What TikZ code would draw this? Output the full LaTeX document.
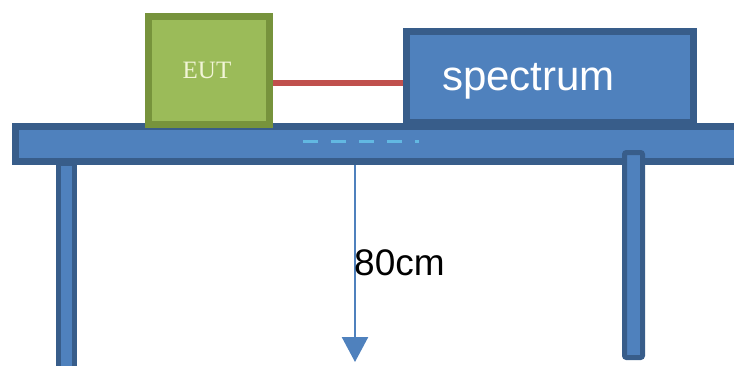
\documentclass[tikz,border=0pt]{standalone}
\usepackage{fontspec}
\setmainfont{Liberation Serif}
\newfontfamily\arialf{Liberation Sans}
\usetikzlibrary{arrows.meta,calc}
\definecolor{tblue}{HTML}{4F81BD}
\definecolor{tbluedk}{HTML}{385D8A}
\definecolor{egreen}{HTML}{9BBB59}
\definecolor{egreendk}{HTML}{77933C}
\definecolor{cred}{HTML}{C0504D}
\definecolor{dashblue}{HTML}{62B8E2}
\definecolor{eutText}{RGB}{242,245,215}
\tikzset{
  bluebox/.style={draw=tbluedk, fill=tblue, line width=7pt, rectangle, inner sep=0pt},
  legbox/.style={draw=tbluedk, fill=tblue, line width=5pt},
  greenbox/.style={draw=egreendk, fill=egreen, line width=7pt, rectangle, inner sep=0pt},
  cable/.style={draw=cred, line width=6pt},
  heightarrow/.style={draw=tblue, line width=2.5pt, -{Triangle[width=26pt,length=25pt]}},
}
\begin{document}
\begin{tikzpicture}[x=1pt,y=-1pt]
\useasboundingbox (0,0) rectangle (734,365);
% table top
\node[bluebox, minimum width=722.5pt, minimum height=35pt] (table) at (376.75,144) {};
% spectrum analyser
\node[bluebox, minimum height=91pt, text width=216pt, inner xsep=35.5pt, align=left,
      font=\arialf\fontsize{42}{46}\selectfont, text=white, text depth=0pt] (spec) at (550,77) {spectrum};
% EUT
\node[greenbox, minimum width=121pt, minimum height=108pt,
      font=\fontsize{25}{29}\selectfont, text=eutText] (eut) at (209,70.5) {\hspace{-4pt}EUT};
% cable
\draw[cable] ([yshift=-12.5pt]eut.east) -- ([yshift=-12.5pt]eut.east -| spec.west);
% legs
\draw[legbox] (58,163) rectangle (74.5,372);
\draw[legbox, rounded corners=2pt] (624.5,152.5) rectangle (642.5,357.5);
% dashed centre mark
\draw[dashblue, line width=3pt, dash pattern=on 15pt off 13pt] (303,141) -- (419,141);
% height arrow
\coordinate (floor) at (355,362);
\draw[heightarrow] (table.south -| floor) -- (floor);
\node[anchor=west, inner sep=0pt, font=\arialf\fontsize{37}{42}\selectfont] (h) at (354,263) {80cm};
\end{tikzpicture}
\end{document}
